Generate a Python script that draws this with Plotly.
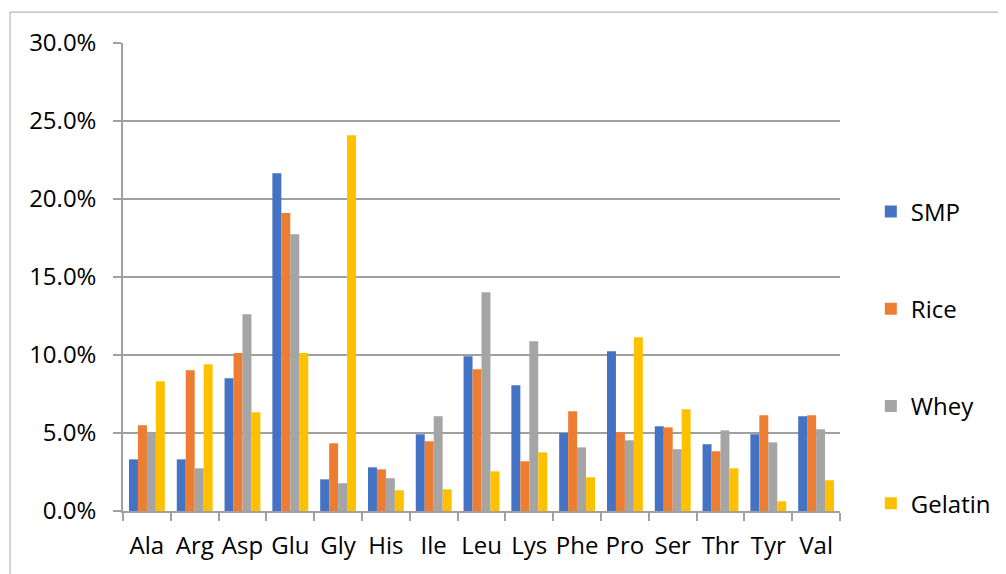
import plotly.graph_objects as go

categories = ["Ala", "Arg", "Asp", "Glu", "Gly", "His", "Ile", "Leu", "Lys", "Phe", "Pro", "Ser", "Thr", "Tyr", "Val"]
smp = [3.31, 3.31, 8.51, 21.65, 2.03, 2.80, 4.92, 9.92, 8.06, 5.00, 10.24, 5.43, 4.28, 4.92, 6.07]
rice = [5.49, 9.02, 10.13, 19.10, 4.34, 2.67, 4.47, 9.08, 3.19, 6.39, 5.04, 5.36, 3.83, 6.13, 6.13]
whey = [5.02, 2.74, 12.61, 17.74, 1.78, 2.10, 6.07, 14.02, 10.88, 4.08, 4.53, 3.96, 5.17, 4.40, 5.24]
gelatin = [8.31, 9.40, 6.33, 10.13, 24.08, 1.33, 1.39, 2.54, 3.76, 2.16, 11.13, 6.52, 2.74, 0.62, 1.97]

series = [("SMP", smp, "#4472C4"), ("Rice", rice, "#ED7D31"), ("Whey", whey, "#A5A5A5"), ("Gelatin", gelatin, "#FFC000")]

FONT = "Open Sans"
FS = 24
fig = go.Figure()
for name, vals, col in series:
    fig.add_trace(go.Bar(x=categories, y=vals, name=name, legendgroup=name,
                         marker=dict(color=col, line=dict(width=0))))

fig.update_layout(
    width=998, height=566,
    margin=dict(l=115, r=166, t=35, b=63, autoexpand=False),
    paper_bgcolor="white", plot_bgcolor="white",
    barmode="group", bargap=0.25, bargroupgap=0,
    font=dict(family=FONT, size=FS, color="#000000"),
    legend=dict(x=1.043, xanchor="left", y=0.687, yanchor="top",
                tracegroupgap=63, font=dict(size=FS), bgcolor="rgba(0,0,0,0)"),
    showlegend=True,
    shapes=[dict(type="rect", xref="paper", yref="paper", x0=-0.1576, x1=1.4, y0=-0.3, y1=1.066,
                 line=dict(color="#A6A6A6", width=1), layer="below")],
)
fig.update_xaxes(showline=True, linecolor="#A0A0A0", linewidth=1.5, ticks="outside", tickson="boundaries",
                 ticklen=8, tickcolor="#A0A0A0", tickwidth=1.5, showgrid=False, tickangle=0,
                 ticklabelstandoff=12, tickfont=dict(size=FS, family=FONT))
fig.update_yaxes(range=[0, 30], dtick=5, tickformat=".1f", ticksuffix="%", showline=True, linecolor="#A0A0A0",
                 linewidth=1.5, ticks="outside", ticklen=8, tickcolor="#A0A0A0", tickwidth=1.5,
                 showgrid=True, gridcolor="#A0A0A0", gridwidth=1.5, zeroline=False,
                 ticklabelstandoff=12, tickfont=dict(size=FS, family=FONT))

fig.write_html("out.html")
